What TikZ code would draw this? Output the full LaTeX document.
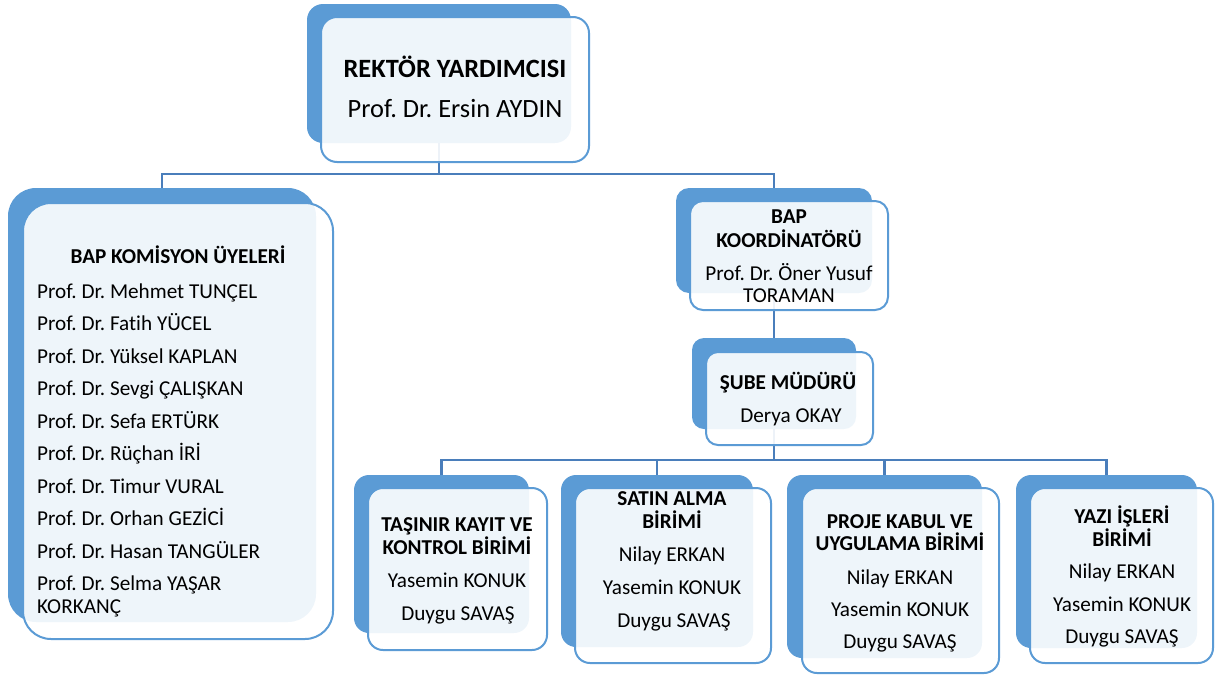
\documentclass[tikz,border=0pt]{standalone}
\usepackage{fontspec}
\setmainfont{Carlito}[Ligatures={NoCommon}]
\definecolor{bblue}{HTML}{5B9BD5}
\definecolor{cblue}{HTML}{4A7EBB}
\frenchspacing
\begin{document}
\begin{tikzpicture}[x=1pt,y=-1pt,
  backbox/.style={draw=none, fill=bblue, rectangle, inner sep=0pt, outer sep=0pt},
  frontbox/.style={draw=bblue, line width=2pt, fill=white, fill opacity=0.9, rectangle, inner sep=0pt, outer sep=0pt},
  conn/.style={draw=cblue, line width=2.6pt},
  txt/.style={anchor=base, inner sep=0pt, font=\fontsize{21.2}{25}\selectfont},
  hdr/.style={anchor=base, inner sep=0pt, font=\fontsize{21.2}{25}\selectfont\bfseries},
  lst/.style={anchor=base west, inner sep=0pt, font=\fontsize{21.2}{25}\selectfont},
  bigtxt/.style={anchor=base, inner sep=0pt, font=\fontsize{26.4}{31}\selectfont},
  bighdr/.style={anchor=base, inner sep=0pt, font=\fontsize{26.4}{31}\selectfont\bfseries}]
\useasboundingbox (0,0) rectangle (1215,675);
% back boxes
\node[backbox, minimum width=264pt, minimum height=139pt, rounded corners=16pt] (rb) at (439,73.5) {};
\node[backbox, minimum width=308pt, minimum height=434pt, rounded corners=28pt] (lb) at (162,405) {};
\node[backbox, minimum width=196pt, minimum height=105pt, rounded corners=13pt] (kb) at (774,240.5) {};
\node[backbox, minimum width=164pt, minimum height=91pt, rounded corners=12pt] (sb) at (774,383.5) {};
\node[backbox, minimum width=175pt, minimum height=158pt, rounded corners=15pt] (b1b) at (441.5,554) {};
\node[backbox, minimum width=192pt, minimum height=172pt, rounded corners=15pt] (b2b) at (657,561) {};
\node[backbox, minimum width=195pt, minimum height=183pt, rounded corners=15pt] (b3b) at (884.5,566.5) {};
\node[backbox, minimum width=181pt, minimum height=173pt, rounded corners=15pt] (b4b) at (1106.5,561.5) {};
% connectors
\coordinate (h1) at (0,174);
\coordinate (h2) at (0,460);
\draw[conn] (rb.south) -- (rb.south |- h1) -| (lb.north);
\draw[conn] (rb.south |- h1) -| (kb.north);
\draw[conn] (kb.south) -- (sb.north);
\draw[conn] (sb.south) -- (sb.south |- h2) -| (b1b.north);
\draw[conn] (sb.south |- h2) -| (b2b.north);
\draw[conn] (sb.south |- h2) -| (b3b.north);
\draw[conn] (sb.south |- h2) -| (b4b.north);
% front boxes
\node[frontbox, minimum width=268pt, minimum height=145pt, rounded corners=16pt] (rf) at (455,89.5) {};
\node[frontbox, minimum width=310pt, minimum height=436pt, rounded corners=28pt] (lf) at (178,421) {};
\node[frontbox, minimum width=198pt, minimum height=109pt, rounded corners=13pt] (kf) at (789,255.5) {};
\node[frontbox, minimum width=167pt, minimum height=93pt, rounded corners=12pt] (sf) at (789.5,398.5) {};
\node[frontbox, minimum width=179pt, minimum height=162pt, rounded corners=15pt] (b1f) at (457.5,569) {};
\node[frontbox, minimum width=196pt, minimum height=175pt, rounded corners=15pt] (b2f) at (673,575.5) {};
\node[frontbox, minimum width=197pt, minimum height=185pt, rounded corners=15pt] (b3f) at (900.5,580.5) {};
\node[frontbox, minimum width=183pt, minimum height=175pt, rounded corners=15pt] (b4f) at (1121.5,575.5) {};
% texts: top
\node[bighdr] (rt1) at (455,77) {REKTÖR YARDIMCISI};
\node[bigtxt] (rt2) at (455,117) {Prof. Dr. Ersin AYDIN};
% left
\node[hdr] (lt0) at (178,263) {BAP KOMİSYON ÜYELERİ};
\node[lst] (lt1) at (37,298) {Prof. Dr. Mehmet TUNÇEL};
\node[lst] (lt2) at (37,330.5) {Prof. Dr. Fatih YÜCEL};
\node[lst] (lt3) at (37,363) {Prof. Dr. Yüksel KAPLAN};
\node[lst] (lt4) at (37,395.5) {Prof. Dr. Sevgi ÇALIŞKAN};
\node[lst] (lt5) at (37,428) {Prof. Dr. Sefa ERTÜRK};
\node[lst] (lt6) at (37,460.5) {Prof. Dr. Rüçhan İRİ};
\node[lst] (lt7) at (37,493) {Prof. Dr. Timur VURAL};
\node[lst] (lt8) at (37,525.5) {Prof. Dr. Orhan GEZİCİ};
\node[lst] (lt9) at (37,558) {Prof. Dr. Hasan TANGÜLER};
\node[lst] (lt10) at (37,590.5) {Prof. Dr. Selma YAŞAR};
\node[lst] (lt11) at (37,613) {KORKANÇ};
% koordinator
\node[hdr] (kt1) at (789,223) {BAP};
\node[hdr] (kt2) at (789,247) {KOORDİNATÖRÜ};
\node[txt] (kt3) at (789,280) {Prof. Dr. Öner Yusuf};
\node[txt] (kt4) at (789,302) {TORAMAN};
% sube
\node[hdr] (st1) at (788,389) {ŞUBE MÜDÜRÜ};
\node[txt] (st2) at (791,422) {Derya OKAY};
% box 1
\node[hdr] (a1) at (457,531) {TAŞINIR KAYIT VE};
\node[hdr] (a2) at (457,554) {KONTROL BİRİMİ};
\node[txt] (a3) at (457,587) {Yasemin KONUK};
\node[txt] (a4) at (458,620) {Duygu SAVAŞ};
% box 2
\node[hdr] (c1) at (672,505) {SATIN ALMA};
\node[hdr] (c2) at (672,528) {BİRİMİ};
\node[txt] (c3) at (672,561) {Nilay ERKAN};
\node[txt] (c4) at (672,594) {Yasemin KONUK};
\node[txt] (c5) at (674,627) {Duygu SAVAŞ};
% box 3
\node[hdr] (d1) at (900,528) {PROJE KABUL VE};
\node[hdr] (d2) at (900,550) {UYGULAMA BİRİMİ};
\node[txt] (d3) at (900,584) {Nilay ERKAN};
\node[txt] (d4) at (900,616) {Yasemin KONUK};
\node[txt] (d5) at (900,648) {Duygu SAVAŞ};
% box 4
\node[hdr] (e1) at (1122,523) {YAZI İŞLERİ};
\node[hdr] (e2) at (1122,546) {BİRİMİ};
\node[txt] (e3) at (1122,578) {Nilay ERKAN};
\node[txt] (e4) at (1122,611) {Yasemin KONUK};
\node[txt] (e5) at (1122,643) {Duygu SAVAŞ};
\end{tikzpicture}
\end{document}
